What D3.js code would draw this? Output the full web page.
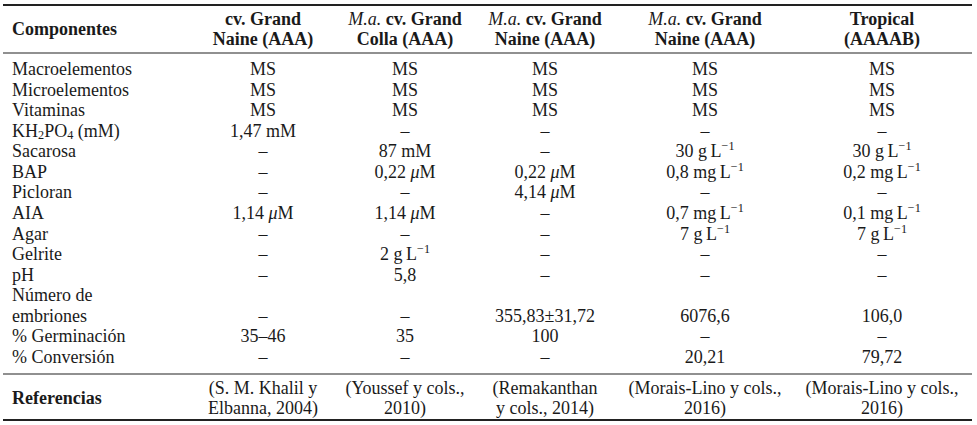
<!DOCTYPE html>
<html>
<head>
<meta charset="utf-8">
<script src="https://cdn.jsdelivr.net/npm/d3@7"></script>
<style>
  html, body { margin: 0; padding: 0; background: #fff; }
  svg text { font-family: "Liberation Serif", "DejaVu Serif", serif; fill: #1a1a1a; }
</style>
</head>
<body>
<svg id="chart" width="977" height="425"></svg>
<script>
// ---- data ----
const headers = [
  "cv. Grand|Naine (AAA)",
  "*M.a.* cv. Grand|Colla (AAA)",
  "*M.a.* cv. Grand|Naine (AAA)",
  "*M.a.* cv. Grand|Naine (AAA)",
  "Tropical|(AAAAB)"
];
const rowLabels = [
  "Macroelementos", "Microelementos", "Vitaminas", "KH_{2}PO_{4} (mM)",
  "Sacarosa", "BAP", "Picloran", "AIA", "Agar", "Gelrite", "pH",
  "Número de|embriones", "% Germinación", "% Conversión"
];
const col1 = ["MS","MS","MS","1,47 mM","–","–","–","1,14 *μ*M","–","–","–","–","35–46","–"];
const col2 = ["MS","MS","MS","–","87 mM","0,22 *μ*M","–","1,14 *μ*M","–","2 g\u2009L^{−1}","5,8","–","35","–"];
const col3 = ["MS","MS","MS","–","–","0,22 *μ*M","4,14 *μ*M","–","–","–","–","355,83±31,72","100","–"];
const col4 = ["MS","MS","MS","–","30 g\u2009L^{−1}","0,8 mg\u2009L^{−1}","–","0,7 mg\u2009L^{−1}","7 g\u2009L^{−1}","–","–","6076,6","–","20,21"];
const col5 = ["MS","MS","MS","–","30 g\u2009L^{−1}","0,2 mg\u2009L^{−1}","–","0,1 mg\u2009L^{−1}","7 g\u2009L^{−1}","–","–","106,0","–","79,72"];
const references = [
  "(S. M. Khalil y|Elbanna, 2004)",
  "(Youssef y cols.,|2010)",
  "(Remakanthan|y cols., 2014)",
  "(Morais-Lino y cols.,|2016)",
  "(Morais-Lino y cols.,|2016)"
];
const stubHeader = "Componentes";
const stubFooter = "Referencias";

// ---- layout ----
const columns = [col1, col2, col3, col4, col5];
const svg = d3.select("#chart");
const FS = 18;
const colIdx = d3.range(columns.length);
const x = d3.scaleOrdinal().domain(colIdx).range([263, 405, 545, 705, 882]);
const labelX = 12;

// line index -> y (text middle)
const totalLines = 15;
const y = d3.scaleLinear().domain([0, totalLines - 1]).range([69, 357]);
const yHead = d3.scaleLinear().domain([0, 1]).range([19, 39]);
const yRef = d3.scaleLinear().domain([0, 1]).range([388, 408]);

// rich text: *italic*, _{sub}, ^{sup}
function rich(textSel, str, bold) {
  const parts = str.split(/(\*[^*]+\*|_\{[^}]*\}|\^\{[^}]*\})/).filter(s => s.length);
  let shift = 0;
  parts.forEach(p => {
    const t = textSel.append("tspan");
    let target = 0, content = p, small = false, italic = false;
    if (p.startsWith("*")) { content = p.slice(1, -1); italic = true; }
    else if (p.startsWith("_{")) { content = p.slice(2, -1); target = 4; small = true; }
    else if (p.startsWith("^{")) { content = p.slice(2, -1); target = -5; small = true; }
    t.attr("dy", target - shift).text(content);
    shift = target;
    if (small) t.style("font-size", (FS * 0.68) + "px");
    if (italic) t.style("font-style", "italic").style("font-weight", "normal");
  });
  if (bold) textSel.style("font-weight", "bold");
}

function cell(xp, yp, str, anchor, bold) {
  const t = svg.append("text")
    .attr("x", xp).attr("y", yp)
    .attr("text-anchor", anchor)
    .attr("dominant-baseline", "central")
    .style("font-size", FS + "px");
  rich(t, str, bold);
  return t;
}

// rules
const rules = [
  {y: 5, w: 1.8}, {y: 53, w: 1.1}, {y: 374, w: 1.1}, {y: 420, w: 1.8}
];
svg.selectAll("line.rule").data(rules).join("line")
  .attr("class", "rule")
  .attr("x1", 3).attr("x2", 972)
  .attr("y1", d => d.y).attr("y2", d => d.y)
  .attr("stroke", "#222").attr("stroke-width", d => d.w);

// header
cell(labelX, (yHead(0) + yHead(1)) / 2, stubHeader, "start", true);
headers.forEach((h, i) => {
  h.split("|").forEach((line, k) => cell(x(i), yHead(k), line, "middle", true));
});

// rows: map row -> line index of value
let line = 0;
rowLabels.forEach((lab, r) => {
  const labLines = lab.split("|");
  labLines.forEach((l, k) => cell(labelX, y(line + k), l, "start", false));
  const valLine = line + labLines.length - 1;
  columns.forEach((col, c) => cell(x(c), y(valLine), col[r], "middle", false));
  line += labLines.length;
});

// footer
cell(labelX, (yRef(0) + yRef(1)) / 2, stubFooter, "start", true);
references.forEach((ref, i) => {
  ref.split("|").forEach((l, k) => cell(x(i), yRef(k), l, "middle", false));
});
</script>
</body>
</html>
